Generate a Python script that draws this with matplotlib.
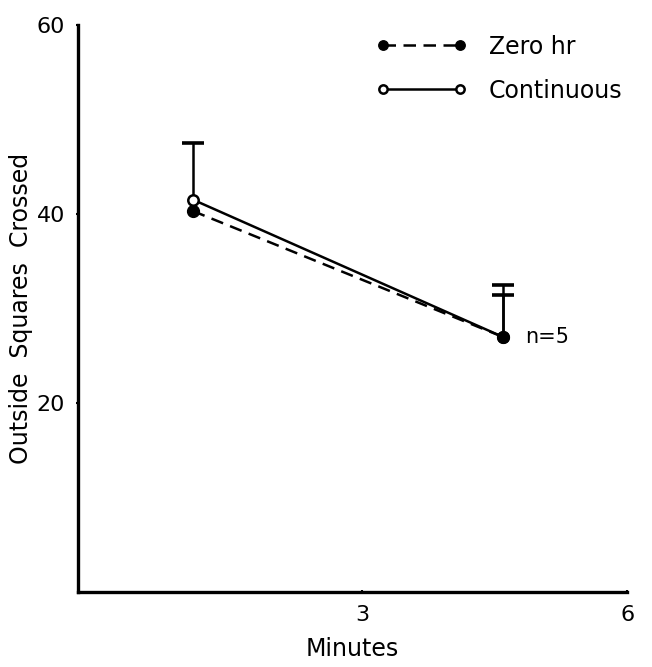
import numpy as np
import matplotlib.pyplot as plt

# data
minutes = [1.08, 4.59]
zero_hr = [40.3, 27.0]
zero_hr_err = [0.0, 4.4]
continuous = [41.5, 27.0]
continuous_err = [6.0, 5.5]
x_ticks = [3, 6]
y_ticks = [20, 40, 60]

plt.rcParams['font.family'] = ['DejaVu Sans']
fig = plt.figure(figsize=(6.52, 6.67), dpi=100)
ax = fig.add_axes([0.12, 0.112, 0.842, 0.851])

# upper error bars only (stem + top cap), skip zero-length ones
for y, err in [(continuous, continuous_err), (zero_hr, zero_hr_err)]:
    x = np.array(minutes)
    y = np.array(y)
    err = np.array(err)
    keep = err > 0
    ax.vlines(x[keep], y[keep], y[keep] + err[keep], color='black', linewidth=1.8)
    ax.plot(x[keep], y[keep] + err[keep], linestyle='none', marker='_',
            markersize=16, markeredgewidth=2.6, color='black')

ax.plot(minutes, continuous, color='black', linestyle='-', linewidth=1.8,
        marker='o', markersize=7.5, markerfacecolor='white', markeredgewidth=1.8,
        label='Continuous')
ax.plot(minutes, zero_hr, color='black', linestyle=(0, (5, 3)), linewidth=1.8,
        marker='o', markersize=8.5, markerfacecolor='black', label='Zero hr')

ax.text(minutes[1] + 0.25, continuous[1], 'n=5', fontsize=15, va='center')

ax.set_xlim(-0.22, 6.0)
ax.set_ylim(0, 60)
ax.set_xticks(x_ticks)
ax.set_yticks(y_ticks)
ax.tick_params(labelsize=16, width=1.5, length=3, direction='inout', pad=8)
ax.set_xlabel('Minutes', fontsize=17, labelpad=8)
ax.set_ylabel('Outside  Squares  Crossed', fontsize=17, labelpad=3)

ax.spines['top'].set_visible(False)
ax.spines['right'].set_visible(False)
ax.spines['left'].set_linewidth(2.4)
ax.spines['bottom'].set_linewidth(2.4)

handles, labels = ax.get_legend_handles_labels()
ax.legend(handles[::-1], labels[::-1], loc='upper right', bbox_to_anchor=(1.03, 1.02),
          frameon=False, fontsize=17, numpoints=2, handlelength=3.9,
          handletextpad=0.9, labelspacing=0.85, markerscale=0.8)

fig.savefig('out.png', dpi=100)
